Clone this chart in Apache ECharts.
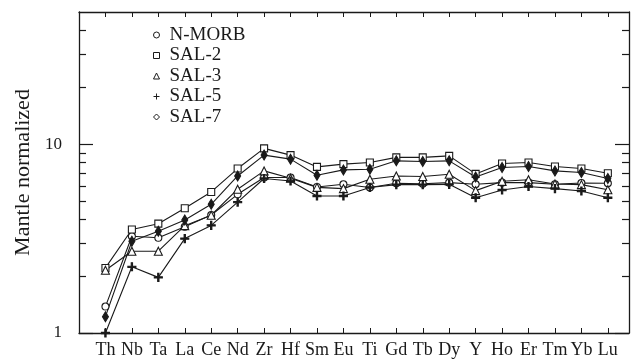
<!DOCTYPE html>
<html>
<head>
<meta charset="utf-8">
<script src="https://cdn.jsdelivr.net/npm/echarts@6/dist/echarts.min.js"></script>
<style>
  html, body { margin: 0; padding: 0; background: #fff; }
  #main { width: 633px; height: 364px; }
</style>
</head>
<body>
<div id="main"></div>
<script>
// element order on the x axis
var elements = ['Th', 'Nb', 'Ta', 'La', 'Ce', 'Nd', 'Zr', 'Hf', 'Sm', 'Eu', 'Ti', 'Gd', 'Tb', 'Dy', 'Y', 'Ho', 'Er', 'Tm', 'Yb', 'Lu'];

// mantle normalized values
var nmorb = [1.38, 3.25, 3.19, 3.65, 4.21, 5.42, 6.65, 6.65, 5.93, 6.13, 5.89, 6.20, 6.17, 6.25, 6.13, 6.25, 6.25, 6.13, 6.22, 6.20];
var sal2  = [2.21, 3.53, 3.79, 4.57, 5.58, 7.42, 9.49, 8.74, 7.57, 7.83, 7.99, 8.50, 8.50, 8.66, 6.95, 7.89, 7.99, 7.61, 7.42, 7.01];
var sal3  = [2.15, 2.71, 2.71, 3.70, 4.20, 5.77, 7.21, 6.60, 5.90, 5.81, 6.51, 6.78, 6.73, 6.92, 5.67, 6.35, 6.47, 6.15, 6.10, 5.73];
var sal5  = [1.00, 2.24, 1.97, 3.16, 3.71, 4.93, 6.57, 6.38, 5.31, 5.31, 5.89, 6.10, 6.10, 6.12, 5.20, 5.71, 5.96, 5.81, 5.64, 5.20];
var sal7  = [1.22, 3.06, 3.46, 3.96, 4.80, 6.78, 8.74, 8.32, 6.84, 7.30, 7.36, 8.15, 8.09, 8.15, 6.70, 7.52, 7.61, 7.21, 7.07, 6.57];

// y tick values
var majorTicks = [1, 10];
var minorTicks = [2, 3, 4, 5, 6, 7, 8, 9, 20, 30, 40];

var FONT = 'Liberation Serif';
var INK = '#1a1a1a';
var PLUS = 'path://M4.2,0L5.8,0L5.8,4.2L10,4.2L10,5.8L5.8,5.8L5.8,10L4.2,10L4.2,5.8L0,5.8L0,4.2L4.2,4.2Z';

function pairs(arr) {
  return arr.map(function (v, i) { return [i, v]; });
}

function mkSeries(name, data, symbol, size, fill) {
  return {
    name: name,
    type: 'line',
    data: pairs(data),
    symbol: symbol,
    symbolSize: size,
    showAllSymbol: true,
    lineStyle: { color: INK, width: 1.1 },
    itemStyle: { color: fill, borderColor: INK, borderWidth: 1.1 },
    emphasis: { disabled: true },
    animation: false
  };
}

var chart = echarts.init(document.getElementById('main'));

var xCommon = {
  type: 'value',
  min: -1,
  max: 19.8,
  interval: 1,
  splitLine: { show: false },
  axisLine: { onZero: false, lineStyle: { color: INK, width: 1.3 } },
  axisTick: { inside: true, length: 5, lineStyle: { color: INK } }
};

var yCommon = {
  type: 'log',
  logBase: 10,
  min: 1,
  max: 50,
  splitLine: { show: false },
  axisLine: { show: true, onZero: false, lineStyle: { color: INK, width: 1.3 } },
  axisTick: { show: false }
};

var legendItem = { color: '#fff', borderColor: INK, borderWidth: 1 };

chart.setOption({
  backgroundColor: '#fff',
  animation: false,
  grid: { left: 79, right: 4, top: 12, bottom: 31 },
  legend: {
    orient: 'vertical',
    left: 148,
    top: 20.5,
    itemWidth: 6,
    itemHeight: 6,
    itemGap: 1.5,
    textStyle: { fontFamily: FONT, fontSize: 19, color: INK, padding: [0, 0, 0, 5] },
    data: [
      { name: 'N-MORB', icon: 'circle', itemStyle: legendItem },
      { name: 'SAL-2', icon: 'rect', itemStyle: legendItem },
      { name: 'SAL-3', icon: 'triangle', itemStyle: legendItem },
      { name: 'SAL-5', icon: PLUS, itemStyle: { color: INK, borderWidth: 0 } },
      { name: 'SAL-7', icon: 'diamond', itemStyle: legendItem }
    ]
  },
  xAxis: [
    Object.assign({}, xCommon, {
      position: 'bottom',
      axisLabel: {
        margin: 8,
        fontFamily: FONT, fontSize: 18, color: INK,
        formatter: function (v) { return elements[v] || ''; }
      }
    }),
    Object.assign({}, xCommon, { position: 'top', axisLabel: { show: false } })
  ],
  yAxis: [
    Object.assign({}, yCommon, {
      position: 'left',
      name: 'Mantle normalized',
      nameLocation: 'middle',
      nameGap: 40,
      nameTextStyle: { fontFamily: FONT, fontSize: 22, color: INK },
      axisLabel: {
        margin: 17,
        fontFamily: FONT, fontSize: 17, color: INK,
        showMaxLabel: false,
        formatter: function (v) { return majorTicks.indexOf(v) >= 0 ? String(v) : ''; }
      }
    }),
    Object.assign({}, yCommon, { position: 'right', axisLabel: { show: false } })
  ],
  series: [
    mkSeries('N-MORB', nmorb, 'circle', 7, '#fff'),
    mkSeries('SAL-2', sal2, 'rect', 7, '#fff'),
    mkSeries('SAL-3', sal3, 'triangle', 8, '#fff'),
    mkSeries('SAL-5', sal5, PLUS, 8, INK),
    mkSeries('SAL-7', sal7, 'diamond', [6, 10], INK)
  ]
});

// log ticks (major + minor) on both sides, placed through the axis scale
var x0 = chart.convertToPixel({ xAxisIndex: 0 }, -1);
var x1 = chart.convertToPixel({ xAxisIndex: 0 }, 19.8);
var ticks = [];
function addTick(v, len) {
  var y = Math.round(chart.convertToPixel({ yAxisIndex: 0 }, v)) + 0.5;
  ticks.push({ type: 'line', shape: { x1: x0, y1: y, x2: x0 + len, y2: y }, style: { stroke: INK, lineWidth: 1.2 }, silent: true });
  ticks.push({ type: 'line', shape: { x1: x1 - len, y1: y, x2: x1, y2: y }, style: { stroke: INK, lineWidth: 1.2 }, silent: true });
}
majorTicks.forEach(function (v) { addTick(v, 14); });
minorTicks.forEach(function (v) { addTick(v, 7); });
chart.setOption({ graphic: ticks });
</script>
</body>
</html>
